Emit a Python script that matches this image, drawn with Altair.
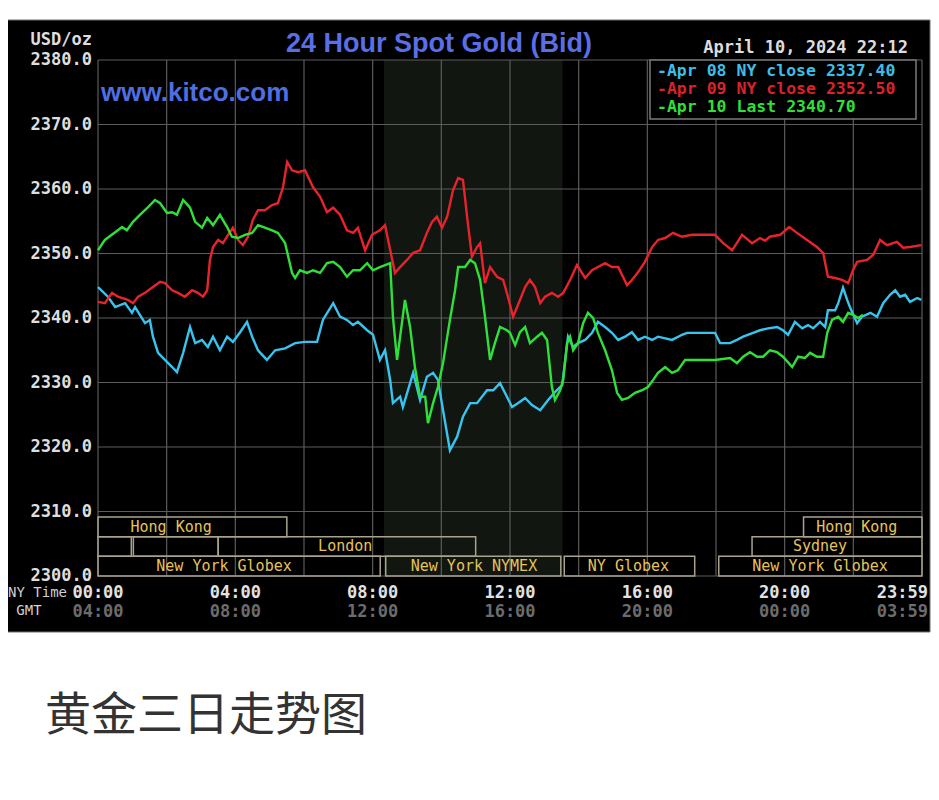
import altair as alt
import pandas as pd

# ---------------- data ----------------
series_names = ["Apr 08", "Apr 09", "Apr 10"]
series_colors = ["#38c4ee", "#e8232b", "#30e03a"]
legend_labels = ["-Apr 08 NY close 2337.40", "-Apr 09 NY close 2352.50", "-Apr 10 Last 2340.70"]
legend_text_colors = ["#3fbde6", "#d8232b", "#33dd3a"]

# hours after 00:00 NY time
apr08_t = [0.00, 0.29, 0.50, 0.79, 0.99, 1.08, 1.37, 1.51, 1.60, 1.75,
           1.95, 2.16, 2.30, 2.48, 2.68, 2.83, 3.03, 3.20, 3.35, 3.55,
           3.76, 3.93, 4.14, 4.34, 4.49, 4.66, 4.92, 5.16, 5.45, 5.74,
           6.03, 6.38, 6.55, 6.85, 7.05, 7.25, 7.43, 7.57, 7.84, 8.01,
           8.21, 8.36, 8.51, 8.59, 8.80, 8.88, 9.09, 9.18, 9.38, 9.58,
           9.76, 9.90, 10.05, 10.25, 10.46, 10.63, 10.84, 11.04, 11.33, 11.51,
           11.71, 11.91, 12.06, 12.23, 12.44, 12.64, 12.88, 13.11, 13.31, 13.52,
           13.69, 13.84, 13.98, 14.19, 14.39, 14.56, 14.77, 14.97, 15.15, 15.35,
           15.55, 15.73, 15.93, 16.14, 16.31, 16.72, 17.01, 17.16, 17.97, 18.12,
           18.41, 18.61, 18.79, 19.08, 19.28, 19.52, 19.78, 19.95, 20.10, 20.30,
           20.51, 20.68, 20.83, 21.03, 21.18, 21.26, 21.47, 21.56, 21.70, 21.82,
           21.90, 22.11, 22.25, 22.50, 22.69, 22.87, 23.07, 23.22, 23.36, 23.51,
           23.65, 23.86, 23.98]
apr08_v = [2344.8, 2343.3, 2341.7, 2342.3, 2340.8, 2341.7, 2339.2, 2339.7, 2337.1, 2334.6,
           2333.5, 2332.4, 2331.6, 2334.6, 2338.6, 2336.1, 2336.6, 2335.5, 2337.1, 2335.0,
           2337.1, 2336.3, 2337.8, 2339.4, 2337.1, 2335.0, 2333.5, 2335.0, 2335.3, 2336.1,
           2336.3, 2336.3, 2339.7, 2342.3, 2340.2, 2339.7, 2338.9, 2339.4, 2338.1, 2337.4,
           2333.5, 2335.0, 2330.4, 2326.8, 2327.8, 2326.2, 2329.9, 2331.5, 2327.3, 2330.9,
           2331.5, 2330.4, 2325.7, 2319.5, 2321.6, 2324.7, 2326.8, 2326.8, 2328.8, 2328.8,
           2329.9, 2327.8, 2326.2, 2326.8, 2327.6, 2326.5, 2325.7, 2327.3, 2328.5, 2329.6,
           2337.1, 2335.5, 2336.1, 2336.6, 2337.7, 2339.4, 2338.6, 2337.7, 2336.6, 2337.1,
           2337.8, 2336.6, 2337.1, 2336.6, 2337.1, 2336.6, 2337.4, 2337.7, 2337.7, 2336.1,
           2336.1, 2336.6, 2337.1, 2337.7, 2338.1, 2338.4, 2338.6, 2338.1, 2337.4, 2339.4,
           2338.4, 2338.9, 2338.4, 2339.4, 2338.6, 2341.2, 2341.2, 2342.3, 2344.7, 2342.8,
           2341.7, 2339.2, 2340.2, 2340.8, 2340.2, 2342.3, 2343.6, 2344.3, 2343.3, 2343.6,
           2342.5, 2343.1, 2342.8]

apr09_t = [0.00, 0.20, 0.41, 0.58, 0.87, 1.02, 1.17, 1.37, 1.60, 1.81,
           1.95, 2.16, 2.33, 2.53, 2.74, 2.91, 3.06, 3.18, 3.26, 3.35,
           3.50, 3.64, 3.79, 3.93, 4.08, 4.22, 4.37, 4.51, 4.66, 4.86,
           5.07, 5.24, 5.39, 5.51, 5.65, 5.83, 6.03, 6.26, 6.47, 6.67,
           6.85, 7.05, 7.25, 7.43, 7.57, 7.78, 7.98, 8.21, 8.36, 8.45,
           8.65, 8.80, 9.00, 9.18, 9.38, 9.58, 9.73, 9.87, 10.02, 10.17,
           10.34, 10.49, 10.63, 10.75, 10.89, 11.04, 11.13, 11.27, 11.42, 11.62,
           11.80, 11.94, 12.09, 12.29, 12.44, 12.58, 12.73, 12.88, 13.02, 13.22,
           13.40, 13.55, 13.75, 13.95, 14.19, 14.39, 14.56, 14.77, 14.97, 15.15,
           15.41, 15.55, 15.73, 15.93, 16.14, 16.31, 16.52, 16.75, 17.01, 17.30,
           17.97, 18.21, 18.47, 18.76, 19.05, 19.28, 19.43, 19.57, 19.87, 20.13,
           20.36, 20.65, 20.94, 21.12, 21.26, 21.47, 21.67, 21.85, 21.99, 22.11,
           22.40, 22.58, 22.78, 22.98, 23.27, 23.45, 23.65, 23.98]
apr09_v = [2342.5, 2342.3, 2343.9, 2343.3, 2342.8, 2342.3, 2343.3, 2343.9, 2344.8, 2345.6,
           2345.4, 2344.3, 2343.9, 2343.3, 2344.3, 2343.9, 2343.3, 2344.3, 2349.0, 2351.0,
           2352.1, 2351.6, 2352.9, 2354.0, 2352.1, 2351.3, 2352.6, 2355.2, 2356.7, 2356.7,
           2357.5, 2357.8, 2360.3, 2364.2, 2362.9, 2362.6, 2362.9, 2360.3, 2358.8, 2356.4,
           2357.1, 2356.0, 2353.6, 2353.2, 2354.0, 2350.5, 2352.9, 2353.6, 2354.4, 2352.1,
           2347.0, 2347.9, 2349.0, 2350.1, 2350.5, 2353.2, 2354.9, 2355.7, 2354.0, 2355.7,
           2359.8, 2361.7, 2361.4, 2355.7, 2349.5, 2351.0, 2351.6, 2345.4, 2347.9, 2346.4,
           2345.9, 2343.3, 2340.2, 2342.8, 2344.8, 2345.9, 2344.8, 2342.3, 2343.3, 2343.9,
           2343.3, 2343.9, 2345.9, 2348.2, 2346.2, 2347.4, 2347.9, 2348.5, 2347.9, 2347.9,
           2345.1, 2345.9, 2347.1, 2348.7, 2351.0, 2352.1, 2352.4, 2353.2, 2352.6, 2352.9,
           2352.9, 2351.6, 2350.5, 2352.9, 2351.6, 2352.4, 2352.0, 2352.6, 2352.9, 2354.1,
           2353.2, 2352.1, 2351.0, 2350.1, 2346.4, 2346.2, 2345.9, 2345.4, 2347.4, 2348.7,
           2349.0, 2349.8, 2352.1, 2351.3, 2351.8, 2350.9, 2351.0, 2351.3]

apr10_t = [0.00, 0.20, 0.50, 0.70, 0.84, 1.02, 1.22, 1.46, 1.66, 1.81,
           2.01, 2.16, 2.30, 2.48, 2.68, 2.83, 3.03, 3.18, 3.35, 3.55,
           3.76, 3.90, 4.08, 4.28, 4.49, 4.66, 4.86, 5.07, 5.24, 5.45,
           5.65, 5.74, 5.88, 6.09, 6.26, 6.47, 6.67, 6.85, 7.05, 7.25,
           7.43, 7.63, 7.84, 8.01, 8.21, 8.51, 8.59, 8.71, 8.80, 8.94,
           9.09, 9.23, 9.38, 9.53, 9.61, 9.76, 9.90, 10.05, 10.25, 10.40,
           10.49, 10.69, 10.84, 10.98, 11.13, 11.27, 11.42, 11.56, 11.71, 11.91,
           12.00, 12.15, 12.29, 12.44, 12.58, 12.79, 12.93, 13.08, 13.22, 13.31,
           13.46, 13.55, 13.66, 13.75, 13.84, 13.98, 14.13, 14.27, 14.42, 14.56,
           14.77, 14.97, 15.12, 15.26, 15.44, 15.64, 15.85, 16.02, 16.17, 16.31,
           16.52, 16.72, 16.89, 17.10, 17.30, 17.97, 18.41, 18.61, 18.79, 18.99,
           19.20, 19.37, 19.57, 19.78, 19.95, 20.22, 20.39, 20.59, 20.74, 20.94,
           21.12, 21.24, 21.38, 21.56, 21.70, 21.85, 21.99, 22.14, 22.28]
apr10_v = [2350.5, 2352.1, 2353.3, 2354.1, 2353.6, 2354.9, 2356.0, 2357.2, 2358.3, 2357.8,
           2356.3, 2356.4, 2356.0, 2358.3, 2357.1, 2354.9, 2354.0, 2355.5, 2354.4, 2356.0,
           2354.1, 2352.6, 2352.4, 2352.9, 2353.2, 2354.4, 2354.0, 2353.6, 2353.2, 2351.6,
           2347.0, 2346.2, 2347.4, 2347.0, 2347.4, 2347.0, 2348.5, 2348.7, 2347.9, 2346.4,
           2347.4, 2347.4, 2348.5, 2347.4, 2347.9, 2348.5, 2340.2, 2333.5, 2337.1, 2342.8,
           2338.6, 2332.4, 2327.8, 2327.8, 2323.7, 2326.8, 2329.3, 2333.0, 2339.7, 2344.3,
           2347.9, 2347.9, 2349.0, 2348.5, 2345.9, 2340.2, 2333.5, 2336.1, 2338.6, 2338.1,
           2337.7, 2335.8, 2337.8, 2338.6, 2336.1, 2337.1, 2337.7, 2336.6, 2329.3, 2327.3,
           2328.8, 2330.4, 2336.1, 2337.1, 2335.0, 2336.1, 2339.2, 2340.8, 2340.0, 2337.7,
           2335.0, 2331.9, 2328.4, 2327.3, 2327.6, 2328.4, 2328.8, 2329.3, 2330.4, 2331.5,
           2332.4, 2331.5, 2331.9, 2333.5, 2333.5, 2333.5, 2333.8, 2333.0, 2334.0, 2334.7,
           2334.0, 2334.0, 2335.0, 2334.7, 2334.0, 2332.4, 2334.0, 2333.8, 2334.6, 2334.0,
           2334.0, 2337.7, 2339.7, 2340.2, 2339.4, 2340.8, 2340.5, 2340.0, 2340.5]

y_ticks = [2300, 2310, 2320, 2330, 2340, 2350, 2360, 2370, 2380]
x_grid_hours = [0, 2, 4, 6, 8, 10, 12, 14, 16, 18, 20, 22, 24]
ny_tick_hours = [0, 4, 8, 12, 16, 20]
ny_tick_labels = ["00:00", "04:00", "08:00", "12:00", "16:00", "20:00"]
gmt_tick_labels = ["04:00", "08:00", "12:00", "16:00", "20:00", "00:00"]
end_hour = [24]
end_ny_label = ["23:59"]
end_gmt_label = ["03:59"]

nymex_start = [8.33]
nymex_end = [13.53]

sess_name = ["Hong Kong", "Hong Kong", "", "", "London", "Sydney",
             "New York Globex", "New York NYMEX", "NY Globex", "New York Globex"]
sess_start = [0.0, 20.55, 0.0, 1.03, 3.5, 19.05, 0.0, 8.38, 13.58, 18.08]
sess_end = [5.5, 24.0, 0.97, 3.5, 11.0, 24.0, 8.22, 13.48, 17.38, 24.0]
sess_row = [0, 0, 1, 1, 1, 1, 2, 2, 2, 2]
sess_label_at = [2.13, 22.1, 0.5, 2.2, 7.2, 21.03, 3.67, 10.95, 15.45, 21.03]

title_text = "24 Hour Spot Gold (Bid)"
site_text = "www.kitco.com"
date_text = "April 10, 2024 22:12"
unit_text = "USD/oz"
caption_text = "黄金三日走势图"

# ---------------- tables ----------------
rows = []
for name, ts, vs in zip(series_names, [apr08_t, apr09_t, apr10_t], [apr08_v, apr09_v, apr10_v]):
    assert len(ts) == len(vs)
    for t, v in zip(ts, vs):
        rows.append({"series": name, "t": t, "v": v})
lines_df = pd.DataFrame(rows)

legend_df = pd.DataFrame({"label": legend_labels, "i": [0, 1, 2], "c": legend_text_colors})
yt_df = pd.DataFrame({"v": y_ticks})
xg_df = pd.DataFrame({"h": x_grid_hours})
xl_df = pd.DataFrame({"h": ny_tick_hours, "ny": ny_tick_labels, "gmt": gmt_tick_labels})
xe_df = pd.DataFrame({"h": end_hour, "ny": end_ny_label, "gmt": end_gmt_label})
shade_df = pd.DataFrame({"s": nymex_start, "e": nymex_end})
sess_df = pd.DataFrame({"name": sess_name, "s": sess_start, "e": sess_end,
                        "row": sess_row, "at": sess_label_at})
one = pd.DataFrame({"k": [0]})

W, H = 824, 516
xs = alt.Scale(domain=[0, 24], nice=False, zero=False)
ys = alt.Scale(domain=[2300, 2380], nice=False, zero=False)
MONO = "DejaVu Sans Mono"

panel = alt.Chart(one).mark_rect(fill="#000000", stroke="#6e6e6e", strokeWidth=1).encode(
    x=alt.value(-98), x2=alt.value(832), y=alt.value(-40), y2=alt.value(572))

shade = alt.Chart(shade_df).mark_rect(fill="#c8ffc8", opacity=0.085).encode(
    x=alt.X("s:Q", scale=xs, axis=None), x2="e:Q", y=alt.value(0), y2=alt.value(H))

vgrid = alt.Chart(xg_df).mark_rule(color="#5c5c5c", strokeWidth=1.2).encode(
    x=alt.X("h:Q", scale=xs, axis=None))
hgrid = alt.Chart(yt_df).mark_rule(color="#5c5c5c", strokeWidth=1.2).encode(
    y=alt.Y("v:Q", scale=ys, axis=None))

sess_base = alt.Chart(sess_df).transform_calculate(
    yt="2300 + (3 - datum.row) * 3.05",
    yb="2300 + (2 - datum.row) * 3.05",
    ym="2300 + (2.5 - datum.row) * 3.05",
)
boxes = sess_base.mark_rect(fillOpacity=0, stroke="#a9a38c", strokeWidth=1.5).encode(
    x=alt.X("s:Q", scale=xs, axis=None), x2="e:Q",
    y=alt.Y("yt:Q", scale=ys, axis=None), y2="yb:Q")
box_text = sess_base.mark_text(font=MONO, fontSize=15, color="#e6c45a",
                               baseline="middle", align="center").encode(
    x=alt.X("at:Q", scale=xs, axis=None), y=alt.Y("ym:Q", scale=ys, axis=None), text="name:N")

lines = alt.Chart(lines_df).mark_line(strokeWidth=2.4).encode(
    x=alt.X("t:Q", scale=xs, axis=None),
    y=alt.Y("v:Q", scale=ys, axis=None),
    color=alt.Color("series:N", scale=alt.Scale(domain=series_names, range=series_colors), legend=None),
)

ylab = alt.Chart(yt_df).transform_calculate(lab="format(datum.v, '.1f')").mark_text(
    font=MONO, fontWeight="bold", fontSize=17, color="#dedede", align="right", baseline="middle").encode(
    x=alt.value(-6), y=alt.Y("v:Q", scale=ys, axis=None), text="lab:N")

xlab_ny = alt.Chart(xl_df).mark_text(font=MONO, fontWeight="bold", fontSize=17, color="#e2e2e2",
                                     align="center", baseline="middle").encode(
    x=alt.X("h:Q", scale=xs, axis=None), y=alt.value(533), text="ny:N")
xlab_gmt = alt.Chart(xl_df).mark_text(font=MONO, fontWeight="bold", fontSize=17, color="#6c6c6c",
                                      align="center", baseline="middle").encode(
    x=alt.X("h:Q", scale=xs, axis=None), y=alt.value(552), text="gmt:N")
xend_ny = alt.Chart(xe_df).mark_text(font=MONO, fontWeight="bold", fontSize=17, color="#e2e2e2",
                                     align="right", baseline="middle", dx=6).encode(
    x=alt.X("h:Q", scale=xs, axis=None), y=alt.value(533), text="ny:N")
xend_gmt = alt.Chart(xe_df).mark_text(font=MONO, fontWeight="bold", fontSize=17, color="#6c6c6c",
                                      align="right", baseline="middle", dx=6).encode(
    x=alt.X("h:Q", scale=xs, axis=None), y=alt.value(552), text="gmt:N")

nytime = alt.Chart(one).mark_text(text="NY Time", font=MONO, fontSize=14, color="#d0d0d0",
                                  align="left", baseline="middle").encode(x=alt.value(-90), y=alt.value(533))
gmt = alt.Chart(one).mark_text(text="GMT", font=MONO, fontSize=14, color="#d0d0d0",
                               align="center", baseline="middle").encode(x=alt.value(-69), y=alt.value(551))

unit = alt.Chart(one).mark_text(text=unit_text, font=MONO, fontWeight="bold", fontSize=17, color="#dedede",
                                align="right", baseline="middle").encode(x=alt.value(-6), y=alt.value(-20))
title = alt.Chart(one).mark_text(text=title_text, font="Liberation Sans", fontWeight="bold", fontSize=27,
                                 color="#5a6ee6", align="center", baseline="middle").encode(
    x=alt.value(341), y=alt.value(-16))
site = alt.Chart(one).mark_text(text=site_text, font="Liberation Sans", fontWeight="bold", fontSize=26,
                                color="#4f6ee2", align="left", baseline="middle").encode(
    x=alt.value(3), y=alt.value(33))
date = alt.Chart(one).mark_text(text=date_text, font=MONO, fontWeight="bold", fontSize=17, color="#dcdcdc",
                                align="right", baseline="middle").encode(x=alt.value(810), y=alt.value(-12))

legend_box = alt.Chart(one).mark_rect(fill="#000000", stroke="#7a7a7a", strokeWidth=1.5).encode(
    x=alt.value(552), x2=alt.value(818), y=alt.value(0), y2=alt.value(59))
legend_txt = alt.Chart(legend_df).transform_calculate(py="11 + datum.i * 18").mark_text(
    font=MONO, fontWeight="bold", fontSize=16.5, align="left", baseline="middle").encode(
    x=alt.value(559), y=alt.Y("py:Q", scale=None), text="label:N",
    color=alt.Color("c:N", scale=None))

caption = alt.Chart(one).mark_text(text=caption_text, font="Noto Sans CJK SC", fontSize=46, color="#333333",
                                   align="left", baseline="alphabetic").encode(
    x=alt.value(-53), y=alt.value(670))

chart = alt.layer(
    panel, shade, vgrid, hgrid, boxes, box_text, lines,
    ylab, xlab_ny, xlab_gmt, xend_ny, xend_gmt, nytime, gmt, unit, title, site, date,
    legend_box, legend_txt, caption,
).properties(
    width=W, height=H,
    padding={"left": 90, "top": 52, "right": 9, "bottom": 212},
    autosize=alt.AutoSizeParams(type="none"),
    background="#ffffff",
).configure_view(strokeWidth=0)

chart.save("out.html", embed_options={"renderer": "svg", "actions": False})
